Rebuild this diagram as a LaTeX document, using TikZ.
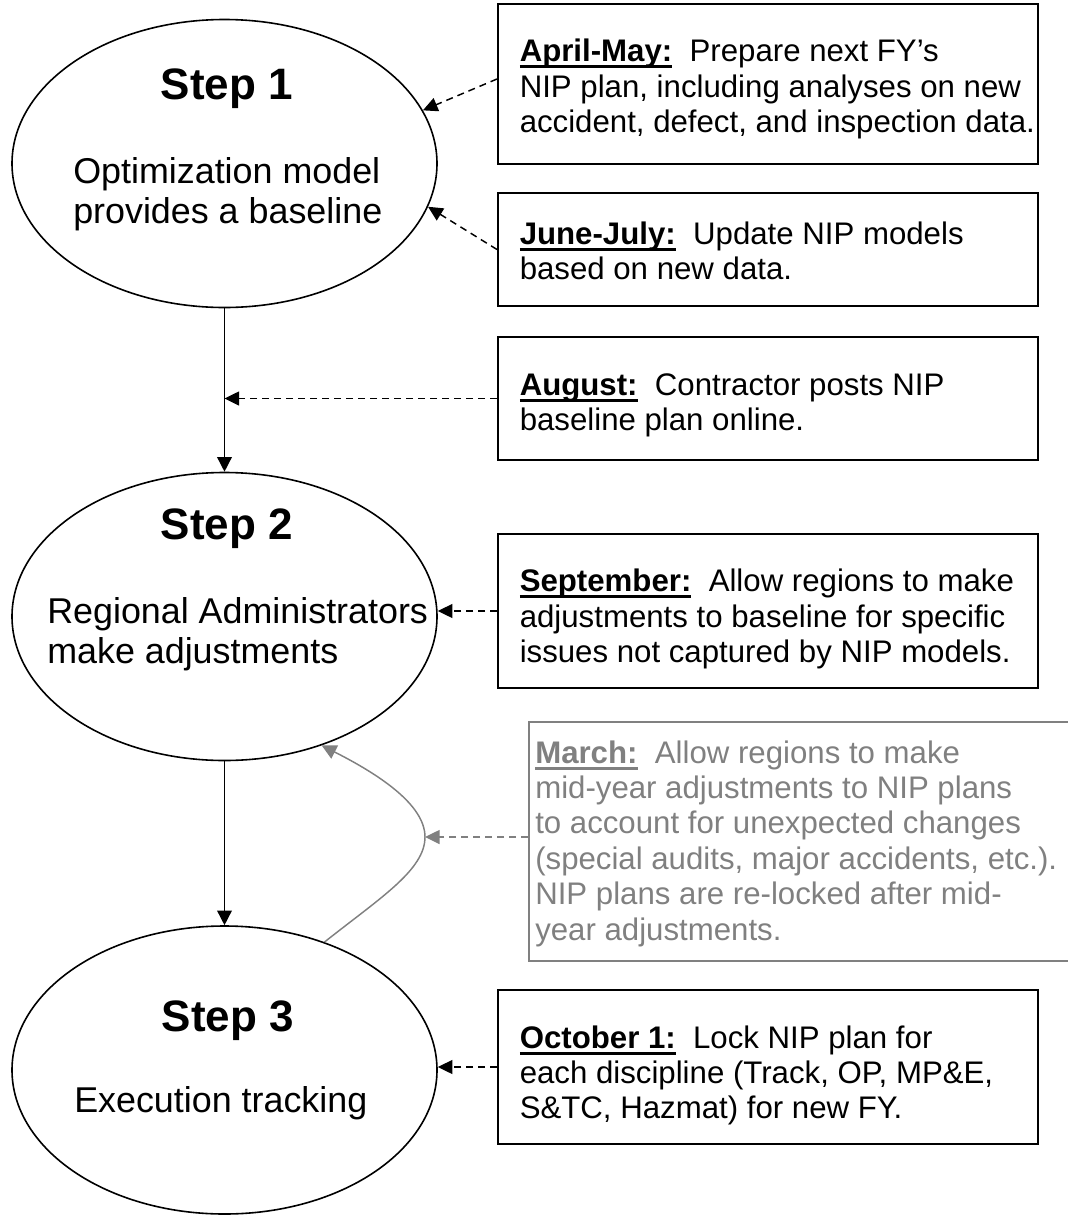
\documentclass[tikz,border=0pt]{standalone}
\usepackage{fontspec}
\setmainfont{Liberation Sans}
\usetikzlibrary{arrows.meta,shapes.geometric,calc}
\definecolor{mgray}{RGB}{128,128,128}
\newsavebox\ulbox
\newcommand\ulab[1]{\sbox\ulbox{\bfseries #1}\rlap{\rule[-5pt]{\wd\ulbox}{2.2pt}}\usebox\ulbox}
\newcommand\mylines[1]{\begin{tabular}[t]{@{}l@{}}#1\end{tabular}}
\begin{document}
\begin{tikzpicture}[x=0.75pt,y=-0.75pt,
  stepell/.style={draw, line width=1.2pt, ellipse, inner sep=0pt, minimum width=318.75pt, minimum height=216pt},
  infobox/.style={draw, line width=1.5pt, rectangle, inner sep=0pt, anchor=north west, minimum width=405pt},
  graybox/.style={draw=mgray, line width=1.2pt, rectangle, inner sep=0pt, anchor=north west, minimum width=420pt},
  steptitle/.style={font=\fontsize{33pt}{36pt}\selectfont\bfseries, inner sep=0pt, anchor=base},
  stepbody/.style={font=\fontsize{26.9pt}{30pt}\selectfont, inner sep=0pt, anchor=base west},
  boxtext/.style={font=\fontsize{23.4pt}{26.6pt}\selectfont, inner sep=0pt, anchor=base west},
  flow/.style={line width=1.1pt, -{Triangle[length=11pt,width=11pt]}},
  feed/.style={line width=1.1pt, dash pattern=on 5.25pt off 3.75pt, -{Triangle[length=11pt,width=10.5pt]}},
]
\path[use as bounding box, clip] (0,0) rectangle (1068,1215);

% ellipses
\node[stepell] (e1) at (224.5,163.5) {};
\node[stepell] (e2) at (224.5,616.5) {};
\node[stepell] (e3) at (224.5,1070) {};

\node[steptitle] (t1) at (227,99) {Step 1};
\node[stepbody] (b1) at (73,183) {\mylines{Optimization model\\provides a baseline}};
\node[steptitle] (t2) at (227,539) {Step 2};
\node[stepbody] (b2) at (47,623) {\mylines{Regional Administrators\\make adjustments}};
\node[steptitle] (t3) at (228,1031) {Step 3};
\node[stepbody] (b3) at (74,1112) {Execution tracking};

% boxes
\node[infobox, minimum height=120pt] (apr) at (497,3) {};
\node[infobox, minimum height=84.75pt] (jun) at (497,192) {};
\node[infobox, minimum height=92.25pt] (aug) at (497,336) {};
\node[infobox, minimum height=115.5pt] (sep) at (497,533) {};
\node[graybox, minimum height=179.25pt] (mar) at (528,721) {};
\node[infobox, minimum height=115.5pt] (oct) at (497,989) {};

\node[boxtext] (aprt) at (519.5,61.7) {\mylines{\ulab{April-May:}\ \ Prepare next FY’s\\NIP plan, including analyses on new\\accident, defect, and inspection data.}};
\node[boxtext] (junt) at (519.5,244.3) {\mylines{\ulab{June-July:}\ \ Update NIP models\\based on new data.}};
\node[boxtext] (augt) at (519.5,395) {\mylines{\ulab{August:}\ \ Contractor posts NIP\\baseline plan online.}};
\node[boxtext] (sept) at (519.5,591.7) {\mylines{\ulab{September:}\ \ Allow regions to make\\adjustments to baseline for specific\\issues not captured by NIP models.}};
\node[boxtext, text=mgray] (mart) at (535,763) {\mylines{\ulab{March:}\ \ Allow regions to make\\mid-year adjustments to NIP plans\\to account for unexpected changes\\(special audits, major accidents, etc.).\\NIP plans are re-locked after mid-\\year adjustments.}};
\node[boxtext] (octt) at (519.5,1048) {\mylines{\ulab{October 1:}\ \ Lock NIP plan for\\each discipline (Track, OP, MP\&E,\\S\&TC, Hazmat) for new FY.}};

% connectors
\draw[flow] (e1.south) -- (e2.north);
\draw[flow] (e2.south) -- (e3.north);
\draw[feed] ($(apr.west)+(0,-5)$) -- (e1.15.6);
\draw[feed] (jun.west) -- (e1.348.2);
\draw[feed] (aug.west) -- (aug.west -| e1.south);
\draw[feed] (sep.west) -- (sep.west -| e2.east);
\draw[feed] (oct.west) -- (oct.west -| e3.east);
\coordinate (bulge) at (425,837);
\draw[feed, mgray] (mar.west |- bulge) -- (bulge);
\draw[line width=1.1pt, mgray, -{Triangle[length=11pt,width=11pt]}] (e3.52) .. controls (380,898) and (425,870) .. (bulge) .. controls (425,805) and (380,775) .. (e2.307);
\end{tikzpicture}
\end{document}
